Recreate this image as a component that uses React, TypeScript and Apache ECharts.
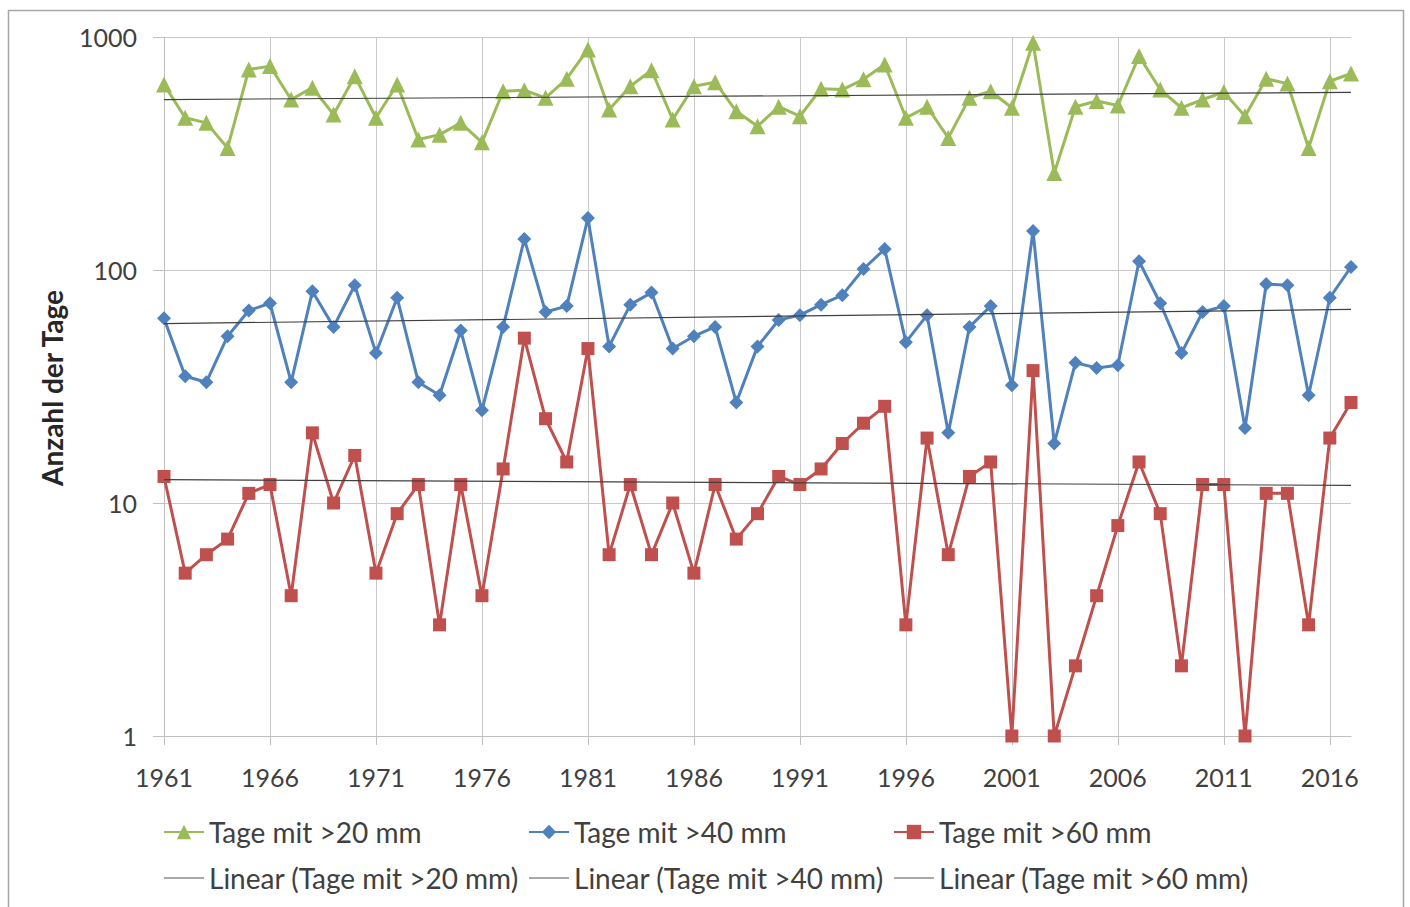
import React, { useEffect, useRef } from "react";
import * as echarts from "echarts";

const years: string[] = [];
for (let y = 1961; y <= 2017; y++) years.push(String(y));

const tage20 = [
  625, 450, 428, 334, 725, 750, 539, 606, 465, 679, 450, 625, 363, 381, 428, 353, 585, 591, 548,
  662, 884, 489, 615, 720, 443, 615, 640, 480, 414, 502, 457, 600, 595, 658, 762, 450, 502, 369,
  548, 585, 497, 944, 261, 502, 531, 508, 828, 595, 497, 539, 580, 457, 662, 631, 334, 646, 697,
];
const tage40 = [
  62, 35, 33, 52, 67, 72, 33, 81, 57, 86, 44, 76, 33, 29, 55, 25, 57, 136, 66,
  70, 167, 47, 71, 80, 46, 52, 57, 27, 47, 61, 64, 71, 78, 101, 123, 49, 64, 20,
  57, 70, 32, 147, 18, 40, 38, 39, 109, 72, 44, 66, 70, 21, 87, 86, 29, 76, 103,
];
const tage60 = [
  13, 5, 6, 7, 11, 12, 4, 20, 10, 16, 5, 9, 12, 3, 12, 4, 14, 51, 23,
  15, 46, 6, 12, 6, 10, 5, 12, 7, 9, 13, 12, 14, 18, 22, 26, 3, 19, 6,
  13, 15, 1, 37, 1, 2, 4, 8, 15, 9, 2, 12, 12, 1, 11, 11, 3, 19, 27,
];
// trend line end values (1961, 2017)
const trend20 = [539, 578];
const trend40 = [58.9, 67.7];
const trend60 = [12.6, 11.9];

const names = ["Tage mit >20 mm", "Tage mit >40 mm", "Tage mit >60 mm"];
const trendNames = names.map((n) => `Linear (${n})`);
const colors = ["#9BBB59", "#4F81BD", "#C0504D"];
const symbols = ["triangle", "diamond", "rect"];
const symbolSizes = [16, 14, 13];
const font = "Lato, 'Open Sans', 'Liberation Sans', sans-serif";

export default function App() {
  const ref = useRef<HTMLDivElement>(null);
  useEffect(() => {
    if (!ref.current) return;
    const chart = echarts.init(ref.current, undefined, { renderer: "svg" });
    const dataSeries = [tage20, tage40, tage60].map((d, i) => ({
      name: names[i],
      type: "line",
      data: d,
      symbol: symbols[i],
      symbolSize: symbolSizes[i],
      showAllSymbol: true,
      lineStyle: { color: colors[i], width: 3 },
      itemStyle: { color: colors[i] },
      z: 2,
    }));
    const trends = [trend20, trend40, trend60].map((t, i) => ({
      name: trendNames[i],
      type: "line",
      data: [
        [years[0], t[0]],
        [years[years.length - 1], t[1]],
      ],
      symbol: "none",
      lineStyle: { color: "#404040", width: 1.2 },
      itemStyle: { color: "#8C8C8C" },
      z: 3,
    }));
    const legends = [0, 1, 2].map((i) => ({
      orient: "vertical",
      left: 163 + i * 365,
      top: 818,
      padding: 0,
      itemWidth: 40,
      itemHeight: 18,
      itemGap: 18,
      data: [
        { name: names[i] },
        { name: trendNames[i], icon: "path://M0,0 L40,0 L40,1.6 L0,1.6 Z" },
      ],
      textStyle: { fontFamily: font, fontSize: 28, lineHeight: 28, color: "#404040" },
    }));
    chart.setOption({
      animation: false,
      grid: { left: 164, right: 59, top: 37, bottom: 171, containLabel: false },
      legend: legends,
      xAxis: {
        type: "category",
        data: years,
        boundaryGap: false,
        axisLine: { lineStyle: { color: "#BFBFBF", width: 1 } },
        axisTick: { interval: 4, length: 9, lineStyle: { color: "#BFBFBF" } },
        axisLabel: { interval: 4, margin: 28, fontFamily: font, fontSize: 25, color: "#404040" },
        splitLine: { show: true, interval: 4, lineStyle: { color: "#C8C8C8", width: 1 } },
      },
      yAxis: {
        type: "log",
        logBase: 10,
        min: 1,
        max: 1000,
        axisLine: { show: true, lineStyle: { color: "#BFBFBF", width: 1 } },
        axisTick: { show: true, length: 11, lineStyle: { color: "#BFBFBF" } },
        axisLabel: {
          margin: 27,
          fontFamily: font,
          fontSize: 25,
          color: "#404040",
          formatter: (v: number) => String(Math.round(v)),
        },
        splitLine: { show: true, lineStyle: { color: "#C8C8C8", width: 1 } },
      },
      graphic: [
        {
          type: "rect",
          shape: { x: 8.5, y: 10.5, width: 1395, height: 905 },
          style: { fill: "none", stroke: "#A6A6A6", lineWidth: 1.5 },
          silent: true,
        },
        {
          type: "text",
          x: 52,
          y: 388,
          rotation: Math.PI / 2,
          style: {
            text: "Anzahl der Tage",
            fontFamily: font,
            fontWeight: "bold",
            fontSize: 28,
            fill: "#262626",
            align: "center",
            verticalAlign: "middle",
          },
        },
      ],
      series: [...dataSeries, ...trends],
    });
    return () => chart.dispose();
  }, []);
  return (
    <div
      ref={ref}
      style={{ position: "fixed", left: 0, top: 0, width: 1410, height: 907, background: "#fff" }}
    />
  );
}
